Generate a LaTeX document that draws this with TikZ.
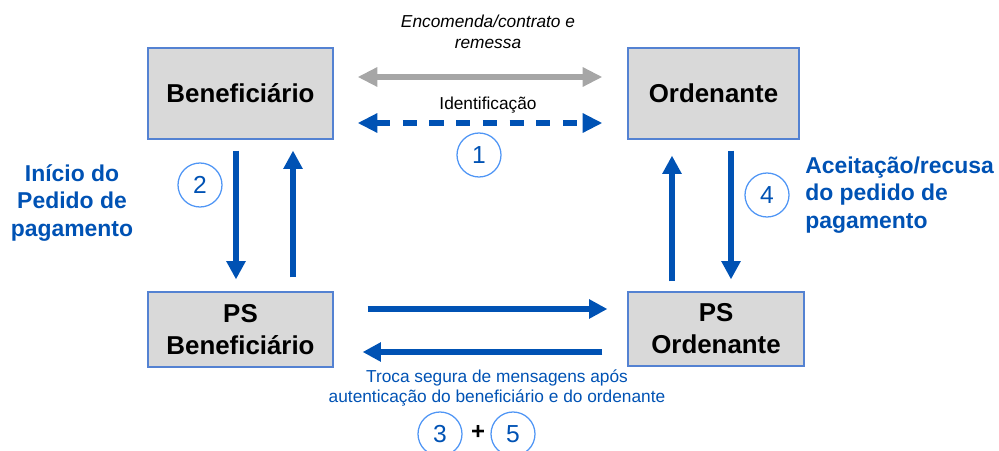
\documentclass[tikz,border=0pt]{standalone}
\usepackage{fontspec}
\setmainfont{Liberation Sans}
\usetikzlibrary{arrows.meta}
\definecolor{psblue}{RGB}{0,82,180}
\definecolor{ringblue}{RGB}{80,150,245}
\definecolor{boxgray}{RGB}{217,217,217}
\definecolor{boxline}{RGB}{84,130,210}
\definecolor{arrgray}{RGB}{166,166,166}

\begin{document}
\begin{tikzpicture}[x=0.025cm, y=-0.025cm]
			\useasboundingbox (0,0) rectangle (999,451);
			\tikzstyle{party}=[draw=boxline, fill=boxgray, line width=0.8pt, align=center, inner sep=0pt, font=\fontsize{18.4}{22.7}\selectfont\bfseries]
			\tikzstyle{stepno}=[circle, draw=ringblue, line width=0.9pt, minimum size=1.1cm, inner sep=0pt, text=psblue, font=\fontsize{17.5}{17.5}\selectfont]
			\tikzstyle{flow}=[psblue, line width=4.6pt, -{Triangle[length=13pt, width=13pt]}]
			\tikzstyle{bigtip}=[{Triangle[length=14pt, width=13pt]}-{Triangle[length=14pt, width=13pt]}]
			\tikzstyle{phase}=[text=psblue, align=center, inner sep=0pt, font=\fontsize{16.3}{19.5}\selectfont\bfseries]
			\tikzstyle{note}=[align=center, inner sep=0pt, font=\fontsize{12.3}{15}\selectfont]

			% the four parties
			\node[party, minimum width=4.625cm, minimum height=2.275cm] (benef) at (240.5, 93.5) {Beneficiário};
			\node[party, minimum width=4.275cm, minimum height=2.275cm] (orden) at (713.5, 93.5) {Ordenante};
			\node[party, minimum width=4.625cm, minimum height=1.875cm] (psbenef) at (240.5, 329.5) {PS\\Beneficiário};
			\node[party, minimum width=4.4cm, minimum height=1.85cm] (psorden) at (716, 329) {PS\\Ordenante};

			% labels
			\node[note, font=\fontsize{12.3}{15}\selectfont\itshape] (encom) at (488, 31.5) {Encomenda/contrato e\\remessa};
			\node[note] (ident) at (488, 105) {Identificação};
			\node[note, text=psblue, font=\fontsize{12.3}{14.2}\selectfont] (troca) at (497, 388) {Troca segura de mensagens após\\autenticação do beneficiário e do ordenante};
			\node[phase] (inicio) at (72, 203) {Início do\\Pedido de\\pagamento};
			\node[phase, anchor=west, align=left] (aceit) at (805, 195) {Aceitação/recusa\\do pedido de\\pagamento};

			% step numbers
			\node[stepno] (s1) at (479, 155) {1};
			\node[stepno] (s2) at (200, 185) {2};
			\node[stepno] (s4) at (767, 195) {4};
			\node[stepno] (s3) at (440, 434) {3};
			\node[stepno] (s5) at (513, 434) {5};
			\node[font=\fontsize{17}{17}\selectfont\bfseries, inner sep=0pt] (plus) at (478, 432) {+};

			% top arrows
			\draw[arrgray, line width=3.6pt, bigtip, shorten <=0.6cm, shorten >=0.625cm]  ([yshift=0.4125cm]benef.east) -- ([yshift=0.4125cm]orden.west);
			\draw[psblue, line width=3.6pt, bigtip, dash pattern=on 10pt off 9pt, shorten <=0.6cm, shorten >=0.625cm]  ([yshift=-0.7375cm]benef.east) -- ([yshift=-0.7375cm]orden.west);

			% vertical arrows
			\draw[flow, shorten <=0.275cm, shorten >=0.3cm]  ([xshift=-0.1125cm]benef.south) -- ([xshift=-0.1125cm]benef.south |- psbenef.north);
			\draw[flow, shorten <=0.35cm, shorten >=0.275cm]  ([xshift=1.3125cm]benef.south |- psbenef.north) -- ([xshift=1.3125cm]benef.south);
			\draw[flow, shorten <=0.25cm, shorten >=0.4cm]  ([xshift=-1.0375cm]orden.south |- psorden.north) -- ([xshift=-1.0375cm]orden.south);
			\draw[flow, shorten <=0.275cm, shorten >=0.3cm]  ([xshift=0.4375cm]orden.south) -- ([xshift=0.4375cm]orden.south |- psorden.north);

			% bottom arrows
			\draw[flow, shorten <=0.85cm, shorten >=0.5cm]  ([yshift=0.5125cm]psbenef.east) -- ([yshift=0.5125cm]psbenef.east -| psorden.west);
			\draw[flow, shorten <=0.625cm, shorten >=0.725cm]  ([yshift=-0.5625cm]psbenef.east -| psorden.west) -- ([yshift=-0.5625cm]psbenef.east);
\end{tikzpicture}
\end{document}
